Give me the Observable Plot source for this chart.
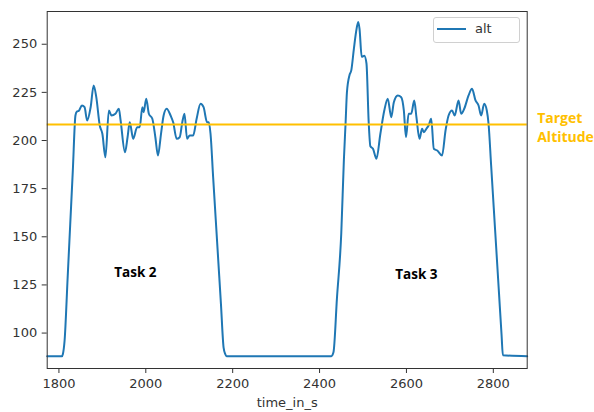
<!DOCTYPE html>
<html><head><meta charset="utf-8">
<script src="https://cdn.jsdelivr.net/npm/d3@7"></script>
<script src="https://cdn.jsdelivr.net/npm/@observablehq/plot@0.6"></script>
<style>
body{margin:0;background:#fff;}
#wrap{position:relative;width:594px;height:412px;}
#legend{position:absolute;left:433px;top:17px;width:85px;height:24px;border:1px solid #d0d0d0;border-radius:3px;background:rgba(255,255,255,0.85);font-family:"DejaVu Sans",sans-serif;font-size:13px;color:#333;}
#legend .sw{position:absolute;left:3px;top:10px;width:29px;height:2px;background:#1f77b4;}
#legend .lb{position:absolute;left:41px;top:3px;}
</style>
</head><body><div id="wrap"></div>
<script>
const timeInS = [1773, 1807, 1809, 1813, 1820, 1826, 1832, 1838, 1841, 1846, 1853, 1859, 1865, 1873, 1880, 1886, 1894, 1900, 1907, 1915, 1921, 1930, 1938, 1942, 1952, 1958, 1963, 1971, 1980, 1986, 1992, 1995, 2001, 2007, 2015, 2022, 2028, 2035, 2041, 2048, 2057, 2063, 2071, 2078, 2084, 2089, 2095, 2101, 2109, 2117, 2126, 2133, 2141, 2145, 2149, 2155, 2161, 2167, 2173, 2179, 2183, 2186, 2427, 2432, 2440, 2450, 2456, 2460, 2463, 2469, 2473, 2479, 2484, 2489, 2492, 2497, 2503, 2508, 2513, 2517, 2523, 2531, 2540, 2549, 2557, 2565, 2571, 2580, 2588, 2594, 2599, 2605, 2611, 2618, 2623, 2630, 2636, 2640, 2646, 2651, 2657, 2663, 2671, 2682, 2690, 2697, 2705, 2711, 2720, 2726, 2733, 2743, 2751, 2759, 2766, 2772, 2779, 2785, 2789, 2795, 2801, 2807, 2813, 2819, 2822, 2878];
const alt = [88, 88, 89, 96, 128.5, 156.5, 184.5, 213, 215, 215.5, 218.2, 217.3, 210.4, 217.3, 228.6, 222.5, 207.8, 203.5, 191.3, 215.6, 213, 213.9, 216.5, 210.4, 193.9, 201.7, 209.5, 200.9, 206.9, 206.9, 217.3, 214.7, 221.7, 213.9, 211.3, 201.7, 192.2, 203.5, 213, 216.5, 213, 209.5, 200.9, 201.7, 209.5, 213.9, 200.9, 202.6, 202.6, 211.3, 219.1, 217.3, 209.5, 209.5, 203.5, 181, 159, 137, 115, 92.6, 89, 88, 88, 90, 118, 152, 190, 209.5, 225, 234, 236.4, 247.6, 256.3, 261.5, 258, 243.5, 244, 240, 210, 197, 195.7, 190.5, 203.5, 215.6, 221.7, 212.1, 219.9, 223.4, 222.5, 215.6, 201.7, 213.9, 213.9, 220.8, 212.1, 200.9, 206.1, 204.3, 206.1, 207.8, 211.3, 195.7, 194.8, 192.2, 205.2, 213, 215.6, 213, 220.8, 213.9, 216.5, 223.4, 226.9, 220.8, 218.2, 213, 219.1, 215.6, 208.7, 187, 165, 143, 121, 99, 88.5, 88];
const targetAltitude = [208.3];
const targetLabel = "Target\nAltitude";
const xTicks = [1800, 2000, 2200, 2400, 2600, 2800];
const yTicks = [100, 125, 150, 175, 200, 225, 250];
const taskNames = ["Task 2", "Task 3"];
const taskTimes = [1976, 2623];
const taskAlts = [131.4, 130.4];
const xLabel = "time_in_s";
const seriesName = "alt";

const series = timeInS.map((t, i) => ({t, v: alt[i]}));
const tasks = taskNames.map((n, i) => ({n, t: taskTimes[i], v: taskAlts[i]}));

const chart = Plot.plot({
  width: 594,
  height: 412,
  marginLeft: 46.7,
  marginRight: 67.3,
  marginTop: 11,
  marginBottom: 44,
  style: {fontFamily: "DejaVu Sans, sans-serif", fontSize: "13px", color: "#333", background: "white", overflow: "visible"},
  x: {domain: [1773, 2878]},
  y: {domain: [81.6, 267]},
  marks: [
    Plot.axisX({ticks: xTicks, tickSize: 5, tickPadding: 5, label: null, tickFormat: d => String(d)}),
    Plot.axisY({ticks: yTicks, tickSize: 5, tickPadding: 5, label: null, tickFormat: d => String(d)}),
    Plot.line(series, {x: "t", y: "v", stroke: "#1f77b4", strokeWidth: 2, curve: "monotone-x"}),
    Plot.ruleY(targetAltitude, {stroke: "#FFC000", strokeWidth: 2}),
    Plot.frame({stroke: "#333", strokeWidth: 1}),
    Plot.text(tasks, {x: "t", y: "v", text: "n", fill: "black", fontWeight: "bold", fontSize: 13.5, fontFamily: "Open Sans, sans-serif"}),
    Plot.text(targetAltitude, {y: d => d, text: () => targetLabel, frameAnchor: "right", dx: 10, dy: 2, textAnchor: "start", fill: "#FFC000", fontWeight: "bold", fontSize: 14, lineHeight: 1.38, fontFamily: "Open Sans, sans-serif"}),
    Plot.text([xLabel], {frameAnchor: "bottom", dy: 38, text: d => d, fill: "#333"})
  ]
});
const wrap = document.getElementById("wrap");
wrap.appendChild(chart);
const lg = document.createElement("div");
lg.id = "legend";
lg.innerHTML = '<div class="sw"></div><div class="lb"></div>';
lg.querySelector(".lb").textContent = seriesName;
wrap.appendChild(lg);
</script>
</body></html>
